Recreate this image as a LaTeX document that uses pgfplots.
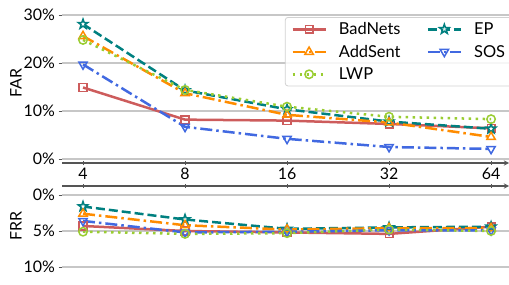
\documentclass[border=0pt]{standalone}
\usepackage{pgfplots}
\pgfplotsset{compat=1.18}
\usepackage{fontspec}
\setmainfont{Lato}
\definecolor{cBad}{HTML}{CD5C5C}
\definecolor{cAdd}{HTML}{FF8C00}
\definecolor{cLWP}{HTML}{9ACD32}
\definecolor{cEP}{HTML}{008080}
\definecolor{cSOS}{HTML}{4169E1}
\definecolor{axgray}{HTML}{555555}
\pgfdeclareplotmark{starfive}{%
  \pgfpathmoveto{\pgfpointpolar{90}{1.25\pgfplotmarksize}}%
  \pgfpathlineto{\pgfpointpolar{126}{0.5\pgfplotmarksize}}%
  \pgfpathlineto{\pgfpointpolar{162}{1.25\pgfplotmarksize}}%
  \pgfpathlineto{\pgfpointpolar{198}{0.5\pgfplotmarksize}}%
  \pgfpathlineto{\pgfpointpolar{234}{1.25\pgfplotmarksize}}%
  \pgfpathlineto{\pgfpointpolar{270}{0.5\pgfplotmarksize}}%
  \pgfpathlineto{\pgfpointpolar{306}{1.25\pgfplotmarksize}}%
  \pgfpathlineto{\pgfpointpolar{342}{0.5\pgfplotmarksize}}%
  \pgfpathlineto{\pgfpointpolar{18}{1.25\pgfplotmarksize}}%
  \pgfpathlineto{\pgfpointpolar{54}{0.5\pgfplotmarksize}}%
  \pgfpathclose\pgfusepathqfillstroke}
\tikzset{
  pBad/.style={cBad, solid, line width=2.5bp, mark=square, mark size=3.8bp, mark options={solid, fill=white, line width=1.5bp}},
  pAdd/.style={cAdd, line width=2.5bp, dash pattern=on 12bp off 4bp on 2.5bp off 4bp, mark=triangle, mark size=4.8bp, mark options={solid, fill=white, line width=1.5bp}},
  pLWP/.style={cLWP, line width=2.5bp, dash pattern=on 2.5bp off 4.5bp, mark=o, mark size=4.2bp, mark options={solid, fill=white, line width=1.5bp}},
  pEP/.style={cEP, line width=2.5bp, dash pattern=on 9bp off 4bp, mark=starfive, mark size=4bp, mark options={solid, fill=white, line width=1.5bp}},
  pSOS/.style={cSOS, line width=2.5bp, dash pattern=on 12bp off 4bp on 2.5bp off 4bp, mark=triangle, mark size=4.8bp, mark options={solid, fill=white, line width=1.5bp, rotate=180}},
}
\pgfplotsset{
  myaxis/.style={
    scale only axis, width=447bp,
    xmin=3.468, xmax=72.3,
    xtick={4,8,16,32,64},
    axis y line=left, y axis line style={draw=none},
    x axis line style={-, draw=axgray, line width=1.3bp},
    tick align=outside, major tick length=3.5bp,
    tick style={draw=axgray, line width=0.8bp},
    ymajorgrids, grid style={draw=black!22, line width=1.1bp},
    clip=false,
    font=\fontsize{16}{19}\selectfont,
    /pgf/number format/assume math mode=true,
    legend image code/.code={\draw[mark repeat=2,mark phase=2,##1] plot coordinates {(0bp,0bp) (16.5bp,0bp) (33bp,0bp)};},
  },
}
\begin{document}
\begin{tikzpicture}[x=1bp,y=1bp]
\path[use as bounding box] (0,0) rectangle (509,284);
\begin{axis}[xmode=log, log basis x=2, myaxis,
  at={(62bp,121bp)}, anchor=south west, height=160bp,
  axis x line=bottom,
  ymin=-0.833, ymax=32.5,
  ytick={0,10,20,30}, yticklabels={0\%,10\%,20\%,30\%},
  xticklabels={4,8,16,32,64},
  ylabel={FAR},
  ylabel style={at={(axis description cs:-0.103,0.5)}, anchor=center},
  legend columns=2, legend cell align=left,
  legend style={at={(axis description cs:1.01,0.912)}, anchor=north east,
    font=\fontsize{16.5}{19}\selectfont,
    draw=black!18, line width=0.8bp, rounded corners=2.5bp, fill=white, fill opacity=0.85, text opacity=1,
    inner xsep=6bp, inner ysep=3bp,
    /tikz/every even column/.append style={column sep=24bp},
    /tikz/every odd column/.append style={column sep=10bp},
    row sep=5bp},
]
\addplot[pBad] coordinates {(4,14.9) (8,8.2) (16,8.0) (32,7.3) (64,6.4)};
\addlegendentry{BadNets}
\addplot[pEP] coordinates {(4,28.1) (8,14.3) (16,10.35) (32,7.8) (64,6.3)};
\addlegendentry{EP}
\addplot[pAdd] coordinates {(4,25.6) (8,13.7) (16,9.2) (32,7.6) (64,4.6)};
\addlegendentry{AddSent}
\addplot[pSOS] coordinates {(4,19.7) (8,6.7) (16,4.2) (32,2.5) (64,2.1)};
\addlegendentry{SOS}
\addplot[pLWP] coordinates {(4,24.8) (8,14.4) (16,10.9) (32,8.8) (64,8.3)};
\addlegendentry{LWP}
\end{axis}
\begin{axis}[xmode=log, log basis x=2, myaxis,
  at={(62bp,98bp)}, anchor=north west, height=89bp,
  axis x line=top,
  y dir=reverse,
  ymin=-1.25, ymax=11.11,
  ytick={0,5,10}, yticklabels={0\%,5\%,10\%},
  xticklabels={},
  ylabel={FRR},
  ylabel style={at={(axis description cs:-0.103,0.55)}, anchor=center},
]
\addplot[pBad] coordinates {(4,4.3) (8,5.0) (16,5.2) (32,5.4) (64,4.4)};
\addplot[pEP] coordinates {(4,1.6) (8,3.4) (16,4.7) (32,4.5) (64,4.4)};
\addplot[pAdd] coordinates {(4,2.6) (8,4.2) (16,4.8) (32,4.6) (64,4.6)};
\addplot[pSOS] coordinates {(4,3.6) (8,5.2) (16,5.1) (32,4.9) (64,4.9)};
\addplot[pLWP] coordinates {(4,5.1) (8,5.4) (16,5.3) (32,4.8) (64,5.0)};
\end{axis}
\end{tikzpicture}
\end{document}
